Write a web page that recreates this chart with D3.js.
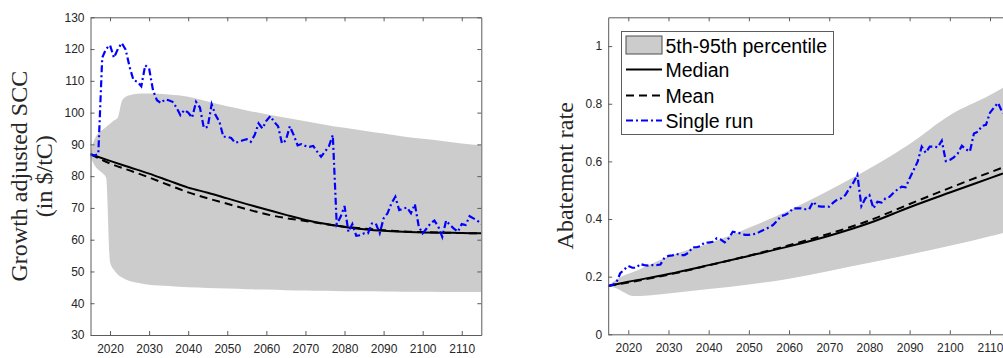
<!DOCTYPE html>
<html>
<head>
<meta charset="utf-8">
<script src="https://cdn.jsdelivr.net/npm/d3@7"></script>
<style>
  body { margin: 0; background: #fff; }
  svg { display: block; }
</style>
</head>
<body>
<svg id="chart" width="1003" height="358"></svg>
<script>
// ---- data ----
const years = d3.range(2015, 2116)

// left panel: growth adjusted SCC
const sccSingle = [86.9,
  86.5, 87, 117.3, 120.1, 121.2, 117.3, 120, 121.9, 119.8, 114.4,
  110.2, 109.7, 108.3, 114.9, 113.9, 107, 103.9, 103, 104.1, 103.9,
  103.4, 101.6, 99.2, 100.8, 100, 98.4, 103.4, 101.6, 95.2, 95.5,
  102.6, 99.2, 97.1, 92.4, 92.4, 92, 90.5, 90.8, 91.3, 91.6,
  90.8, 92.9, 96.6, 95, 97.4, 98.9, 97.1, 95.7, 90.3, 91.3,
  95.7, 92.9, 89.7, 90.1, 89.5, 89.2, 89.5, 87.7, 86.1, 87.7,
  89.4, 92.9, 64.9, 67.2, 70.6, 62.5, 64.9, 61.2, 61.4, 62,
  62, 65.1, 65.1, 62, 66.7, 68.3, 71.4, 73.5, 69.3, 69.8,
  70.1, 68.3, 71.2, 64.1, 62, 63.5, 65.1, 66, 64.1, 60.9,
  66, 64.6, 63.5, 62.5, 64.9, 64.6, 67.4, 66.7, 66, 64.9]
const sccStatYears = d3.range(2015, 2116, 5)
const sccMedian = [86.9, 84.8, 82.8, 80.8, 78.6, 76.4, 74.8, 73, 71.2, 69.5, 67.8,
  66.2, 65, 64, 63.3, 62.8, 62.5, 62.3, 62.2, 62.1, 62]
const sccMean = [86.9, 84, 81.8, 79.6, 77.2, 74.9, 73, 71.3, 69.6, 68, 66.8,
  65.9, 64.9, 64.1, 63.5, 63, 62.6, 62.4, 62.2, 62.1, 62]
const sccBandYears = [2015, 2016, 2017, 2018, 2019, 2020, 2021, 2022, 2023, 2024, 2025, 2026,
  2028, 2030, 2035, 2040, 2045, 2050, 2055, 2060, 2065, 2070, 2075, 2080, 2085, 2090,
  2095, 2100, 2105, 2110, 2115]
const sccBandHigh = [87.5, 91.5, 93.5, 94.5, 95.5, 96.5, 97.5, 98.5, 103.5, 105, 105.5, 105.8,
  106, 106, 105.7, 105, 103.5, 102, 100.7, 99.5, 98.4, 97.3, 96.2, 95.2, 94.3, 93.4,
  92.5, 91.8, 91.1, 90.3, 89.7]
const sccBandLow = [86, 83.5, 82, 81, 79.5, 53, 50.5, 49, 48.2, 47.5, 47, 46.7,
  46.2, 45.8, 45.4, 45, 44.8, 44.6, 44.4, 44.3, 44.1, 44, 43.9, 43.8, 43.75, 43.7,
  43.65, 43.6, 43.55, 43.5, 43.5]

// right panel: abatement rate
const abateSingle = [0.168,
  0.171, 0.179, 0.212, 0.225, 0.237, 0.231, 0.231, 0.244, 0.240, 0.238,
  0.240, 0.240, 0.242, 0.266, 0.272, 0.274, 0.279, 0.275, 0.275, 0.283,
  0.302, 0.302, 0.306, 0.319, 0.318, 0.321, 0.333, 0.329, 0.319, 0.333,
  0.356, 0.353, 0.350, 0.345, 0.345, 0.347, 0.350, 0.358, 0.364, 0.371,
  0.379, 0.394, 0.410, 0.414, 0.422, 0.437, 0.437, 0.437, 0.434, 0.434,
  0.460, 0.445, 0.443, 0.443, 0.443, 0.457, 0.468, 0.472, 0.483, 0.506,
  0.526, 0.553, 0.445, 0.472, 0.483, 0.437, 0.460, 0.457, 0.472, 0.477,
  0.491, 0.503, 0.512, 0.510, 0.541, 0.570, 0.599, 0.651, 0.630, 0.651,
  0.651, 0.649, 0.672, 0.601, 0.605, 0.614, 0.628, 0.654, 0.642, 0.634,
  0.697, 0.703, 0.723, 0.727, 0.769, 0.787, 0.803, 0.772, 0.760, 0.780]
const abateStatYears = [2015, 2020, 2030, 2040, 2050, 2060, 2070, 2080, 2090, 2100, 2110, 2115]
const abateMedian = [0.168, 0.182, 0.209, 0.240, 0.272, 0.305, 0.342, 0.386, 0.441, 0.492, 0.542, 0.567]
const abateMean = [0.168, 0.180, 0.207, 0.239, 0.273, 0.309, 0.349, 0.395, 0.452, 0.508, 0.562, 0.588]
const abateBandYears = [2015, 2017, 2019, 2021, 2025, 2030, 2040, 2050, 2060, 2070, 2080, 2090, 2100, 2110, 2115]
const abateBandHigh = [0.168, 0.19, 0.205, 0.215, 0.24, 0.27, 0.315, 0.37, 0.43, 0.5, 0.575, 0.66, 0.76, 0.83, 0.87]
const abateBandLow = [0.168, 0.16, 0.145, 0.133, 0.135, 0.142, 0.157, 0.173, 0.193, 0.22, 0.248, 0.277, 0.307, 0.34, 0.358]

const xTicks = d3.range(2020, 2111, 10)
const sccTicks = d3.range(30, 131, 10)
const abateTicks = [0, 0.2, 0.4, 0.6, 0.8, 1]
const legendLabels = ["5th-95th percentile", "Median", "Mean", "Single run"]

// ---- styles ----
const band_color = "#cccccc"
const axis_color = "#5c5c5c"
const text_color = "#262626"
const tick_font = "'Liberation Sans', Arial, sans-serif"
const label_font = "'Liberation Serif', 'Times New Roman', serif"
const dash_mean = "8,5"
const dash_single = "7,3,2,3"

const svg = d3.select("#chart")

function draw_panel(p) {
    const x = d3.scaleLinear().domain([2015, 2115]).range([p.left, p.right])
    const y = d3.scaleLinear().domain(p.ydomain).range([p.bottom, p.top])
    const g = svg.append("g")

    const clipId = "clip" + p.id
    g.append("clipPath").attr("id", clipId)
        .append("rect")
        .attr("x", p.left).attr("y", p.top)
        .attr("width", p.right - p.left).attr("height", p.bottom - p.top)

    const plot = g.append("g").attr("clip-path", `url(#${clipId})`)

    const band = p.bandYears.map((yr, i) => ({yr, lo: p.bandLow[i], hi: p.bandHigh[i]}))
    plot.append("path")
        .datum(band)
        .attr("fill", band_color)
        .attr("d", d3.area().x(d => x(d.yr)).y0(d => y(d.lo)).y1(d => y(d.hi)).curve(d3.curveMonotoneX))

    const statLine = d3.line().x(d => x(d[0])).y(d => y(d[1])).curve(d3.curveMonotoneX)
    plot.append("path")
        .datum(p.statYears.map((yr, i) => [yr, p.median[i]]))
        .attr("fill", "none").attr("stroke", "#000").attr("stroke-width", 2)
        .attr("d", statLine)
    plot.append("path")
        .datum(p.statYears.map((yr, i) => [yr, p.mean[i]]))
        .attr("fill", "none").attr("stroke", "#000").attr("stroke-width", 2)
        .attr("stroke-dasharray", dash_mean)
        .attr("d", statLine)
    plot.append("path")
        .datum(years.map((yr, i) => [yr, p.single[i]]))
        .attr("fill", "none").attr("stroke", "#0000ff").attr("stroke-width", 2.2)
        .attr("stroke-dasharray", dash_single)
        .attr("d", d3.line().x(d => x(d[0])).y(d => y(d[1])))

    // axes, ticks pointing inward on all four sides
    const xb = g.append("g").attr("transform", `translate(0,${p.bottom})`)
        .call(d3.axisBottom(x).tickValues(xTicks).tickFormat(d3.format("d"))
            .tickSizeInner(-4).tickSizeOuter(0).tickPadding(9))
    const xt = g.append("g").attr("transform", `translate(0,${p.top})`)
        .call(d3.axisTop(x).tickValues(xTicks).tickFormat("")
            .tickSizeInner(-4).tickSizeOuter(0))
    const yl = g.append("g").attr("transform", `translate(${p.left},0)`)
        .call(d3.axisLeft(y).tickValues(p.yticks).tickFormat(d => d3.format("")(d))
            .tickSizeInner(-4).tickSizeOuter(0).tickPadding(6))
    const yr = g.append("g").attr("transform", `translate(${p.right},0)`)
        .call(d3.axisRight(y).tickValues(p.yticks).tickFormat("")
            .tickSizeInner(-4).tickSizeOuter(0))

    for (const a of [xb, xt, yl, yr]) {
        a.selectAll("path, line").attr("stroke", axis_color)
        a.selectAll("text")
            .attr("font-family", tick_font)
            .attr("font-size", "12px")
            .attr("fill", text_color)
    }

    // y label, one or more lines
    p.ylabel.forEach((txt, i) => {
        g.append("text")
            .attr("transform", `translate(${p.ylabelX[i]},${(p.top + p.bottom) / 2}) rotate(-90)`)
            .attr("text-anchor", "middle")
            .attr("font-family", label_font)
            .attr("font-size", "24px")
            .attr("fill", text_color)
            .text(txt)
    })
    return {x, y, g}
}

draw_panel({
    id: "L", left: 90.5, right: 481.3, top: 17.3, bottom: 335,
    ydomain: [30, 130], yticks: sccTicks,
    bandYears: sccBandYears, bandLow: sccBandLow, bandHigh: sccBandHigh,
    statYears: sccStatYears, median: sccMedian, mean: sccMean, single: sccSingle,
    ylabel: ["Growth adjusted SCC", "(in $/tC)"], ylabelX: [27, 52]
})

draw_panel({
    id: "R", left: 608.2, right: 1010.1, top: 17.3, bottom: 334.3,
    ydomain: [0, 1.1], yticks: abateTicks,
    bandYears: abateBandYears, bandLow: abateBandLow, bandHigh: abateBandHigh,
    statYears: abateStatYears, median: abateMedian, mean: abateMean, single: abateSingle,
    ylabel: ["Abatement rate"], ylabelX: [573]
})

// legend (right panel)
const legend = svg.append("g")
legend.append("rect")
    .attr("x", 621.5).attr("y", 31.5).attr("width", 212).attr("height", 103)
    .attr("fill", "#fff").attr("stroke", axis_color)
const rowY = [45, 69.5, 95.5, 120.5]
const sx0 = 626, sx1 = 662
legend.append("rect")
    .attr("x", sx0).attr("y", rowY[0] - 9).attr("width", sx1 - sx0).attr("height", 18)
    .attr("fill", band_color).attr("stroke", "#4d4d4d")
legend.append("line")
    .attr("x1", sx0).attr("x2", sx1).attr("y1", rowY[1]).attr("y2", rowY[1])
    .attr("stroke", "#000").attr("stroke-width", 2)
legend.append("line")
    .attr("x1", sx0).attr("x2", sx1).attr("y1", rowY[2]).attr("y2", rowY[2])
    .attr("stroke", "#000").attr("stroke-width", 2).attr("stroke-dasharray", dash_mean)
legend.append("line")
    .attr("x1", sx0).attr("x2", sx1).attr("y1", rowY[3]).attr("y2", rowY[3])
    .attr("stroke", "#0000ff").attr("stroke-width", 2.2).attr("stroke-dasharray", dash_single)
legend.selectAll("text.lab")
    .data(legendLabels)
    .join("text")
    .attr("class", "lab")
    .attr("x", 665.5)
    .attr("y", (d, i) => rowY[i] + 7.5)
    .attr("font-family", tick_font)
    .attr("font-size", "19.5px")
    .attr("fill", "#000")
    .text(d => d)
</script>
</body>
</html>
